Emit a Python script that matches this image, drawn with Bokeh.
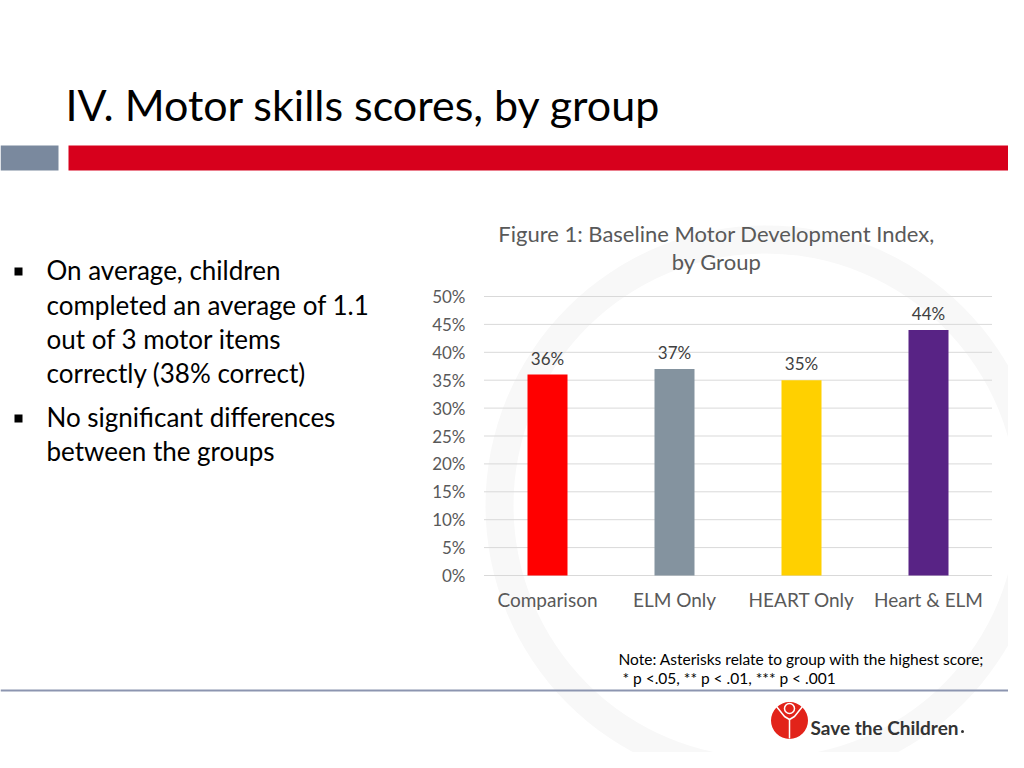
from bokeh.plotting import figure
from bokeh.models import Range1d, LinearAxis, FixedTicker, PrintfTickFormatter
from bokeh.core.properties import value
from bokeh.embed import file_html
from bokeh.resources import INLINE

# ---- data ----
categories = ["Comparison", "ELM Only", "HEART Only", "Heart & ELM"]
scores = [36, 37, 35, 44]
bar_colors = ["#FF0000", "#84939F", "#FFD000", "#582385"]
y_ticks = [0, 5, 10, 15, 20, 25, 30, 35, 40, 45, 50]
title = "IV. Motor skills scores, by group"
chart_title = ["Figure 1: Baseline Motor Development Index,", "by Group"]
bullets = [
    ["On average, children", "completed an average of 1.1", "out of 3 motor items", "correctly (38% correct)"],
    ["No significant differences", "between the groups"],
]
note_lines = ["Note:  Asterisks relate to group with the highest score;", "* p <.05, ** p < .01, *** p < .001"]
brand = "Save the Children"

FONT = "Lato"
W, H = 1008, 752

p = figure(width=W, height=H, x_range=Range1d(0, W), y_range=Range1d(H, 0),
           x_axis_type=None, y_axis_type=None, toolbar_location=None,
           output_backend="svg", min_border=0, outline_line_color=None,
           background_fill_color="white", border_fill_color="white")

# chart coordinate systems
px_per_cat = 127.0
cat0_px = 547
p.extra_x_ranges = {"cat": Range1d(-cat0_px / px_per_cat, (W - cat0_px) / px_per_cat)}
px_per_pct = (575 - 296) / 50.0
zero_px = H - 575
p.extra_y_ranges = {"pct": Range1d(-zero_px / px_per_pct, (H - zero_px) / px_per_pct)}

# faint watermark ring
p.annulus(x=[765], y=[505], inner_radius=252, outer_radius=280,
          inner_radius_units="screen", outer_radius_units="screen",
          fill_color="#f8f8f8", line_color=None)

# header
p.text(x=[65], y=[104], text=[title], text_font=value(FONT), text_font_size="43px",
       text_color="#000000", text_baseline="middle")
p.quad(left=[0], right=[58], top=[145], bottom=[170], fill_color="#7A899E", line_color=None)
p.quad(left=[68], right=[W], top=[145], bottom=[170], fill_color="#D7001C", line_color=None)

# bullets
mid_ys = [[269, 304, 338, 372], [416, 450]]
for lines, ys in zip(bullets, mid_ys):
    p.scatter(x=[18], y=[ys[0] + 2], marker="square", size=8, fill_color="black", line_color=None)
    p.text(x=[46] * len(lines), y=ys, text=lines, text_font=value(FONT), text_font_size="26px",
           text_color="#000000", text_baseline="middle")

# chart title
p.text(x=[716, 716], y=[233, 261], text=chart_title, text_font=value(FONT), text_font_size="22px",
       text_color="#595959", text_align="center", text_baseline="middle")

# gridlines
p.segment(x0=[-0.5] * len(y_ticks), x1=[3.5] * len(y_ticks), y0=y_ticks, y1=y_ticks,
          x_range_name="cat", y_range_name="pct", line_color="#d9d9d9", line_width=1)

# bars
idx = list(range(len(categories)))
p.vbar(x=idx, top=scores, bottom=0, width=0.315, fill_color=bar_colors, line_color=None,
       x_range_name="cat", y_range_name="pct")
p.text(x=idx, y=scores, text=[f"{v}%" for v in scores], x_range_name="cat", y_range_name="pct",
       text_font=value(FONT), text_font_size="17px", text_color="#404040",
       text_align="center", text_baseline="bottom", y_offset=-6)

# axes
yax = LinearAxis(y_range_name="pct", fixed_location=475,
                 ticker=FixedTicker(ticks=y_ticks), formatter=PrintfTickFormatter(format="%d%%"))
yax.axis_line_color = None
yax.major_tick_line_color = None
yax.minor_tick_line_color = None
yax.major_tick_out = 0
yax.major_tick_in = 0
yax.major_label_standoff = 10
yax.major_label_text_font = FONT
yax.major_label_text_font_size = "17px"
yax.major_label_text_color = "#595959"
p.add_layout(yax, "left")

xax = LinearAxis(x_range_name="cat", fixed_location=575,
                 ticker=FixedTicker(ticks=idx),
                 major_label_overrides={i: c for i, c in zip(idx, categories)})
xax.axis_line_color = None
xax.major_tick_line_color = None
xax.minor_tick_line_color = None
xax.major_tick_out = 0
xax.major_tick_in = 0
xax.major_label_standoff = 12
xax.major_label_text_font = FONT
xax.major_label_text_font_size = "19px"
xax.major_label_text_color = "#595959"
p.add_layout(xax, "below")

# note
p.text(x=[618, 622], y=[658, 677], text=note_lines, text_font=value(FONT), text_font_size="15.5px",
       text_color="#000000", text_baseline="middle")

# separator
p.segment(x0=[0], x1=[W], y0=[690], y1=[690], line_color="#8C95B0", line_width=2)

# logo
p.scatter(x=[789], y=[720], marker="circle", size=37, fill_color="#E2231A", line_color=None)
p.scatter(x=[789], y=[708], marker="circle", size=10, fill_color="#E2231A", line_color="white", line_width=1.5)
p.multi_line(xs=[[776, 784, 789, 794, 802], [789, 789]], ys=[[706, 716, 719, 716, 706], [719, 738]],
             line_color="white", line_width=1.5)
p.text(x=[810], y=[727], text=[brand], text_font=value(FONT), text_font_size="19px",
       text_font_style="bold", text_color="#333333", text_baseline="middle")
p.scatter(x=[962], y=[731], marker="circle", size=3, fill_color="#333333", line_color=None)

open("out.html", "w").write(file_html(p, INLINE))
